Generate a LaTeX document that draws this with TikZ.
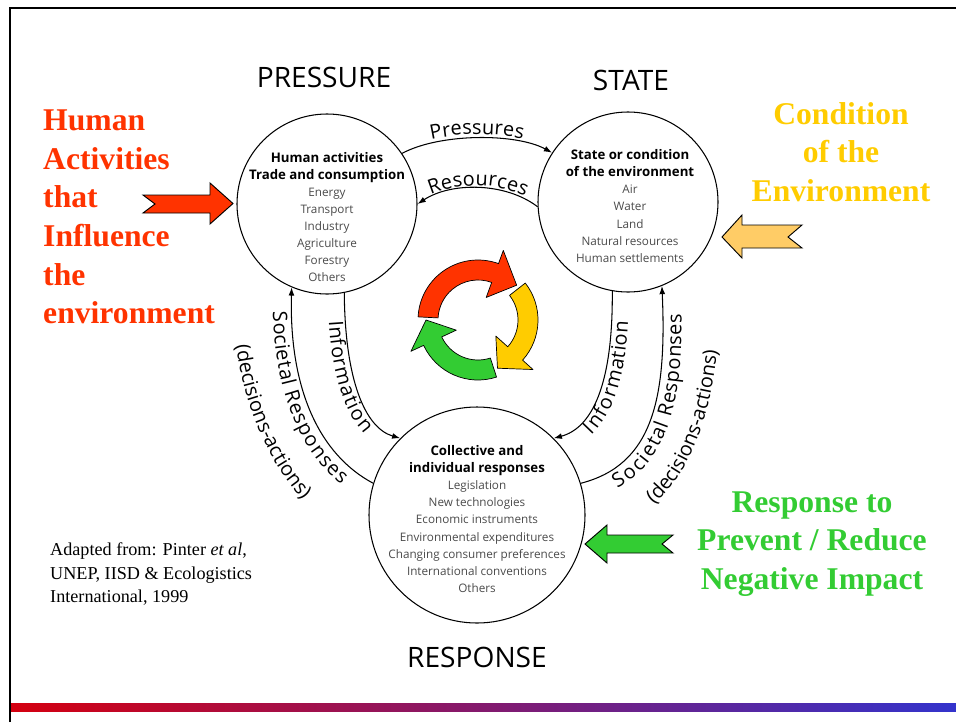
\documentclass[tikz,border=0pt]{standalone}
\usepackage{fontspec}
\setmainfont{Liberation Serif}
\newfontfamily\diagfont{Open Sans}
\usetikzlibrary{arrows.meta,decorations.text}
\definecolor{actred}{HTML}{FF3300}
\definecolor{condgold}{HTML}{FFCC00}
\definecolor{condfill}{HTML}{FFCC66}
\definecolor{respgreen}{HTML}{33CC33}
\definecolor{itemgray}{HTML}{4A4A4A}
\definecolor{barred}{RGB}{212,0,16}
\definecolor{barblue}{RGB}{51,51,204}
\newcommand\flowfont{\diagfont\fontsize{17}{20}\selectfont}
\newcommand\hd[1]{{\color{black}\bfseries\fontsize{11.3}{14.6}\selectfont #1}}
\tikzset{
    every node/.style={inner sep=0pt, font=\diagfont}
}
\tikzset{
    sphere/.style={circle, draw, line width=0.9pt, minimum size=#1},
    items/.style={align=center, text=itemgray,
    	font=\diagfont\fontsize{10}{14.6}\selectfont},
    stage/.style={font=\diagfont\fontsize{24}{26}\selectfont},
    remark/.style={font=\bfseries\fontsize{27}{32.9}\selectfont, align=center}
}
\tikzset{
    link/.style={line width=0.9pt, -{Latex[length=7pt,width=5pt]}},
    tag/.style={decorate, decoration={text along path, text align=center,
    	text={|\flowfont|#1}}},
    bigarrow/.style={draw, line width=0.8pt, line join=miter},
    cyc/.style={draw, line width=0.6pt, line join=round}
}

\begin{document}
\begin{tikzpicture}[x=0.03cm,y=-0.03cm]
  \useasboundingbox (0,0) rectangle (956,722);
  \draw [line width=2.2pt] (10,722) -- (10,8) -- (956,8);
  \shade [left color=barred, right color=barblue] (11,703) rectangle (956,711);

  \node (pr) [sphere=5.4cm] at (327,204) {};
  \node (st) [sphere=5.4cm] at (628,202) {};
  \node (re) [sphere=6.48cm] at (477,515) {};

  \node (prh) [stage] at (324,77) {PRESSURE};
  \node (sth) [stage] at (631,80) {STATE};
  \node (reh) [stage] at (477,657) {RESPONSE};

  \node (prt) [items] at (327,217) {\hd{Human activities}\\
    \hd{Trade and consumption}\\Energy\\Transport\\Industry\\
    Agriculture\\Forestry\\Others};
  \node (stt) [items] at (630,206) {\hd{State or condition}\\
    \hd{of the environment}\\Air\\Water\\Land\\
    Natural resources\\Human settlements};
  \node (ret) [items] at (477,519) {\hd{Collective and}\\
    \hd{individual responses}\\Legislation\\New technologies\\
    Economic instruments\\Environmental expenditures\\
    Changing consumer preferences\\International conventions\\Others};

  \draw [link] (pr.34) .. controls (440,133) and (516,133) .. (st.147);
  \draw [link] (st.183) .. controls (505,182) and (451,182) .. (pr.0);
  \draw [link] (pr.-79) .. controls (345,380) and (365,428) .. (re.135);
  \draw [link] (re.163) .. controls (320,455) and (289,390) .. (pr.247);
  \draw [link] (st.260) .. controls (613,385) and (592,428) .. (re.45);
  \draw [link] (re.17) .. controls (652,465) and (667,400) .. (st.292);

  % labels along the links
  \path [tag={Pressures}, decoration={raise=3pt}]
    (pr.34) .. controls (440,133) and (516,133) .. (st.147);
  \path [tag={Resources}, decoration={raise=2pt}]
    (pr.0) .. controls (451,182) and (505,182) .. (st.183);
  \path [tag={Information}, decoration={raise=-14pt}]
    (pr.-79) .. controls (345,380) and (365,428) .. (re.135);
  \path [tag={Societal Responses}, decoration={raise=-16pt}]
    (pr.247) .. controls (289,390) and (320,455) .. (re.163);
  \path [tag={(decisions-actions)}]
    (233,292) .. controls (231,402) and (279,496) .. (344,534);
  \path [tag={Information}, decoration={raise=-14pt}]
    (re.45) .. controls (592,428) and (613,385) .. (st.260);
  \path [tag={Societal Responses}, decoration={raise=-16pt}]
    (re.17) .. controls (652,465) and (667,400) .. (st.292);
  \path [tag={(decisions-actions)}]
    (603,532) .. controls (685,512) and (722,411) .. (719,292);

  % recycling sign
  \begin{scope}[shift={(478,320)}]
    \draw [cyc, fill=actred] (183:60) arc [start angle=183, end angle=290, radius=60]
      -- (290:74) -- (318:52) -- (290:24) -- (290:40)
      arc [start angle=290, end angle=183, radius=40] -- cycle;
    \draw [cyc, fill=condgold] (322:60) arc [start angle=322, end angle=402, radius=60]
      -- (402:74) -- (428:52) -- (402:24) -- (402:40)
      arc [start angle=402, end angle=322, radius=40] -- cycle;
    \draw [cyc, fill=respgreen] (432:60) arc [start angle=432, end angle=515, radius=60]
      -- (515:74) -- (540:52) -- (515:24) -- (515:40)
      arc [start angle=515, end angle=432, radius=40] -- cycle;
  \end{scope}

  \draw [bigarrow, fill=actred] (143,195) -- (210,195) -- (210,183) -- (233,203.5)
    -- (210,224) -- (210,213) -- (143,213) -- (155,204) -- cycle;
  \draw [bigarrow, fill=condfill] (722,237) -- (742,215) -- (742,225) -- (802,225)
    -- (788,237) -- (802,248) -- (742,248) -- (742,258) -- cycle;
  \draw [bigarrow, fill=respgreen] (585,544) -- (607,525) -- (607,535) -- (673,535)
    -- (662,544) -- (673,553) -- (607,553) -- (607,563) -- cycle;

  \node (act) [remark, text=actred, align=left, anchor=west] at (43,217)
    {Human\\Activities\\that\\Influence\\the\\environment};
  \node (cond) [remark, text=condgold] at (841,152) {Condition\\of the\\Environment};
  \node (resp) [remark, text=respgreen] at (812,544)
    {Response to\\Prevent / Reduce\\Negative Impact};

  \node (src) [align=left, anchor=west, font=\fontsize{15.5}{20}\selectfont] at (50,574)
    {Adapted from: Pinter \textit{et al},\\UNEP, IISD \& Ecologistics\\International, 1999};
\end{tikzpicture}
\end{document}
